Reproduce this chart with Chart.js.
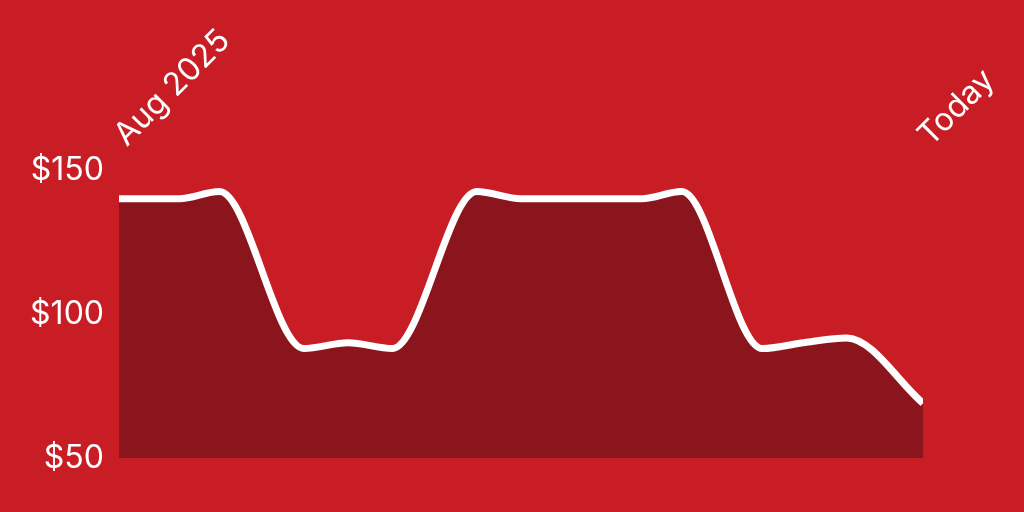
<!DOCTYPE html>
<html>
<head>
<meta charset="utf-8">
<script src="https://cdn.jsdelivr.net/npm/chart.js@4/dist/chart.umd.min.js"></script>
<style>
  html, body { margin: 0; padding: 0; background: #c91d26; }
  #wrap { width: 1024px; height: 512px; }
</style>
</head>
<body>
<div id="wrap"><canvas id="grafico"></canvas></div>
<script>
// dias desde o inicio (Aug 2025 = 0, Today = 200)
const dias = [0, 15, 25, 46, 57, 68, 89, 100, 130, 140, 160, 171, 181, 200];
const precos = [140, 140, 142.5, 88, 90, 88, 142.5, 140, 140, 142.5, 88, 90.2, 91.7, 69];
const rotulosX = ['Aug 2025', 'Today'];
const ticksY = [50, 100, 150];

const fonte = { family: 'Inter, "Noto Sans", sans-serif', size: 32, weight: '400' };
const ctx = document.getElementById('grafico');

new Chart(ctx, {
    type: 'line',
    data: {
        datasets: [
            {
                data: dias.map((d, i) => ({ x: d, y: precos[i] })),
                borderColor: '#ffffff',
                borderWidth: 7,
                backgroundColor: '#8b151c',
                fill: 'start',
                pointRadius: 0,
                cubicInterpolationMode: 'monotone'
            }
        ]
    },
    options: {
        responsive: true,
        maintainAspectRatio: false,
        animation: false,
        layout: { padding: { top: 20, right: 101, bottom: 54, left: 0 } },
        plugins: { legend: { display: false }, tooltip: { enabled: false } },
        scales: {
            x: {
                type: 'linear',
                position: 'top',
                min: dias[0],
                max: dias[dias.length - 1],
                grid: { display: false, drawTicks: false },
                border: { display: false },
                afterBuildTicks: (eixo) => {
                    eixo.ticks = [{ value: dias[0] }, { value: dias[dias.length - 1] }];
                },
                afterFit: (eixo) => { eixo.height = 150; },
                ticks: {
                    color: '#ffffff',
                    font: fonte,
                    minRotation: 45,
                    maxRotation: 45,
                    padding: 16,
                    labelOffset: 28,
                    callback: (valor) => (valor === dias[0] ? rotulosX[0] : rotulosX[1])
                }
            },
            y: {
                min: ticksY[0],
                max: ticksY[ticksY.length - 1],
                grid: { display: false, drawTicks: false },
                border: { display: false },
                afterBuildTicks: (eixo) => {
                    eixo.ticks = ticksY.map((v) => ({ value: v }));
                },
                afterFit: (eixo) => { eixo.width = 119; },
                ticks: {
                    color: '#ffffff',
                    font: fonte,
                    padding: 15,
                    callback: (valor) => '$' + valor
                }
            }
        }
    }
});
</script>
</body>
</html>
